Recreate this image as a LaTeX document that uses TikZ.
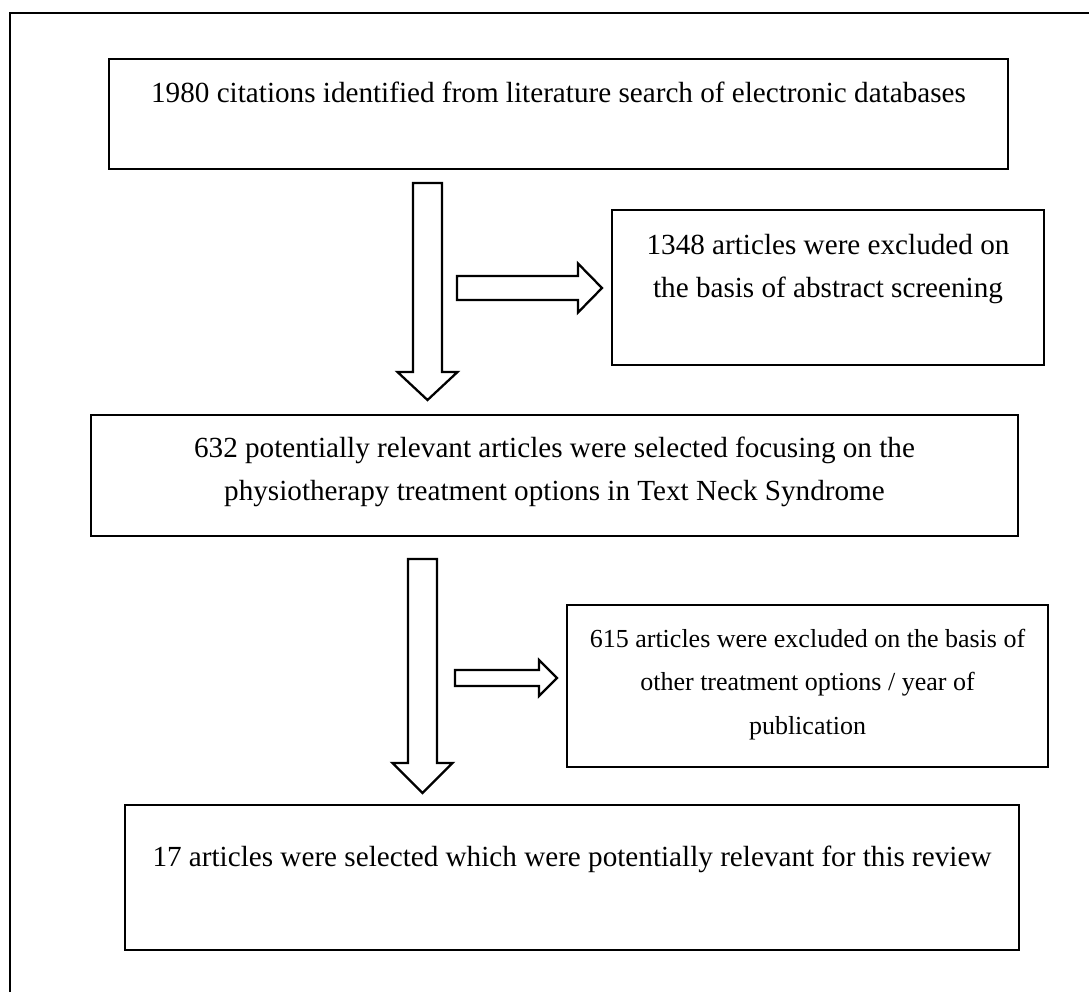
\documentclass[tikz,border=0pt]{standalone}
\usepackage{fontspec}
\setmainfont{Liberation Serif}
\usetikzlibrary{fit}

\tikzset{
  box/.style={draw, line width=1.4pt, inner sep=0pt},
  txt/.style={align=center, anchor=base, inner sep=0pt, font=\fontsize{16.6}{24.4}\selectfont},
  smalltxt/.style={txt, font=\fontsize{14.8}{24.6}\selectfont},
  blk/.style={draw, line width=1.3pt, fill=white, line join=miter}
}

\begin{document}
\begin{tikzpicture}[x=0.02cm, y=-0.02cm]
  \useasboundingbox (0,0) rectangle (1089,992);
  \draw[line width=1.4pt] (10,992) -- (10,13) -- (1089,13);

  \node[box, fit={(109,59) (1008,169)}] (search) {};
  \node[box, fit={(612,210) (1044,365)}] (abstract) {};
  \node[box, fit={(91,415) (1018,536)}] (selected) {};
  \node[box, fit={(567,605) (1048,767)}] (other) {};
  \node[box, fit={(125,805) (1019,950)}] (final) {};

  % text sits on the baseline of its last line
  \node[txt] (searchtxt) at (search.north |- 0,102) {1980 citations identified from literature search of electronic databases};
  \node[txt] (abstracttxt) at (abstract.north |- 0,297) {1348 articles were excluded on\\the basis of abstract screening};
  \node[txt] (selectedtxt) at (selected.north |- 0,500) {632 potentially relevant articles were selected focusing on the\\physiotherapy treatment options in Text Neck Syndrome};
  \node[smalltxt] (othertxt) at (other.north |- 0,734) {615 articles were excluded on the basis of\\other treatment options / year of\\publication};
  \node[txt] (finaltxt) at (final.north |- 0,866) {17 articles were selected which were potentially relevant for this review};

  % block arrows down: centre/top/head/tip
  \foreach \x/\t/\h/\e in {427.5/183/372/400, 422.5/559/763/793}
    \draw[blk] (\x-14.5,\t) -- (\x+14.5,\t) -- (\x+14.5,\h) -- (\x+30,\h) -- (\x,\e)
      -- (\x-30,\h) -- (\x-14.5,\h) -- cycle;
  % block arrows right: centre/start/head/tip/shaft/head width
  \foreach \y/\s/\h/\e/\a/\b in {288/457/578/602/12/24.5, 678/455/539/557/8/18}
    \draw[blk] (\s,\y-\a) -- (\h,\y-\a) -- (\h,\y-\b) -- (\e,\y) -- (\h,\y+\b)
      -- (\h,\y+\a) -- (\s,\y+\a) -- cycle;
\end{tikzpicture}
\end{document}
